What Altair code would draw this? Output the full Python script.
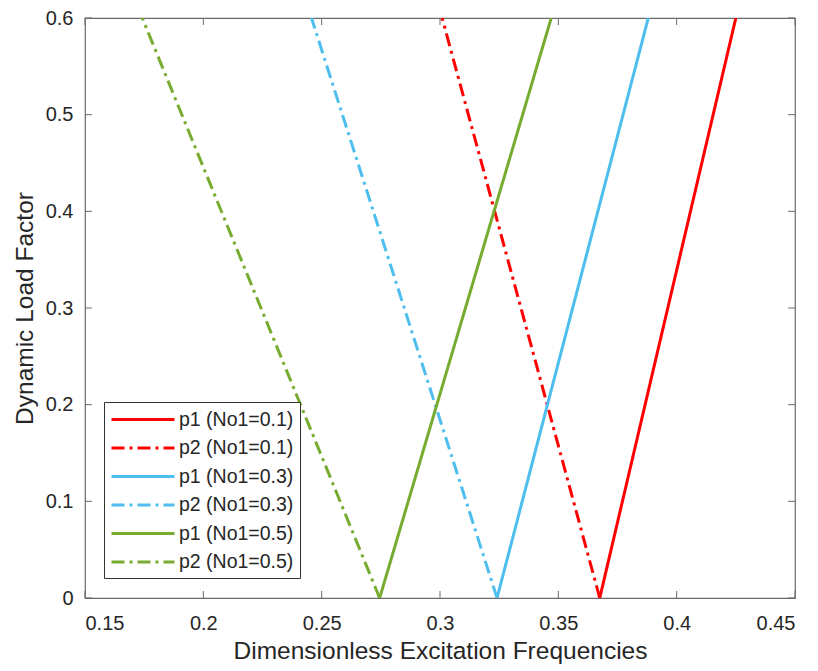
import altair as alt
import pandas as pd

names = ["p1 (No1=0.1)", "p2 (No1=0.1)", "p1 (No1=0.3)", "p2 (No1=0.3)", "p1 (No1=0.5)", "p2 (No1=0.5)"]
colors = ["#FF0000", "#FF0000", "#4DBEEE", "#4DBEEE", "#77AC30", "#77AC30"]
dashes = [[1, 0], [13, 5, 3, 5], [1, 0], [13, 5, 3, 5], [1, 0], [13, 5, 3, 5]]
x_at_zero = [0.3675, 0.3675, 0.3241, 0.3241, 0.2745, 0.2745]
x_at_top = [0.4250, 0.3009, 0.3880, 0.2457, 0.3470, 0.1742]
y_zero = 0.0
y_top = 0.6

x_ticks = [0.15, 0.2, 0.25, 0.3, 0.35, 0.4, 0.45]
y_ticks = [0, 0.1, 0.2, 0.3, 0.4, 0.5, 0.6]

rows = []
for i, n in enumerate(names):
    rows.append({"series": n, "order": i, "x": x_at_zero[i], "y": y_zero})
    rows.append({"series": n, "order": i, "x": x_at_top[i], "y": y_top})
df = pd.DataFrame(rows)

W, H = 710, 580
FONT = "Liberation Sans"
AX = "#262626"
BOX = "#6b6b6b"

xs = alt.Scale(domain=[0.15, 0.45], nice=False, zero=False)
ys = alt.Scale(domain=[0, 0.6], nice=False, zero=False)

leg = dict(title=None, orient="none", legendX=19, legendY=384,
           symbolType="M-1,0L5.3,0", symbolSize=400,
           symbolStrokeWidth=3, labelFontSize=19.5,
           labelFont=FONT, labelColor=AX,
           fillColor="white", strokeColor="#333333",
           padding=6, rowPadding=7.5, labelOffset=46)

lines = alt.Chart(df).mark_line(strokeWidth=3, clip=True).encode(
    x=alt.X("x:Q", scale=xs, title="Dimensionless Excitation Frequencies",
            axis=alt.Axis(values=x_ticks, format=".2~f", tickSize=0, labelPadding=15,
                          titlePadding=6, domain=False, grid=False)),
    y=alt.Y("y:Q", scale=ys, title="Dynamic Load Factor",
            axis=alt.Axis(values=y_ticks, format=".1~f", tickSize=0, labelPadding=12,
                          titlePadding=8, domain=False, grid=False)),
    color=alt.Color("series:N", scale=alt.Scale(domain=names, range=colors),
                    sort=names, legend=alt.Legend(**leg)),
    strokeDash=alt.StrokeDash("series:N", scale=alt.Scale(domain=names, range=dashes),
                              sort=names, legend=alt.Legend(**leg)),
    detail="series:N",
    order="order:Q",
)

xt = pd.DataFrame({"v": x_ticks})
yt = pd.DataFrame({"v": y_ticks})
tcol = BOX
xb = alt.Chart(xt).mark_rule(color=tcol, strokeWidth=1).encode(
    x=alt.X("v:Q", scale=xs), y=alt.value(H), y2=alt.value(H - 7))
xtop = alt.Chart(xt).mark_rule(color=tcol, strokeWidth=1).encode(
    x=alt.X("v:Q", scale=xs), y=alt.value(0), y2=alt.value(7))
yl = alt.Chart(yt).mark_rule(color=tcol, strokeWidth=1).encode(
    y=alt.Y("v:Q", scale=ys), x=alt.value(0), x2=alt.value(7))
yr = alt.Chart(yt).mark_rule(color=tcol, strokeWidth=1).encode(
    y=alt.Y("v:Q", scale=ys), x=alt.value(W), x2=alt.value(W - 7))

chart = alt.layer(xb, xtop, yl, yr, lines).properties(
    width=W, height=H, background="white",
    autosize=alt.AutoSizeParams(type="none"),
    padding={"left": 85, "top": 18, "right": 23, "bottom": 73},
).configure_view(stroke=BOX, strokeWidth=1.2).configure_axis(
    labelFont=FONT, titleFont=FONT, labelFontSize=20, titleFontSize=24.5,
    labelColor=AX, titleColor=AX, titleFontWeight="normal",
)

chart.save("out.html", embed_options={"renderer": "svg", "actions": False})
